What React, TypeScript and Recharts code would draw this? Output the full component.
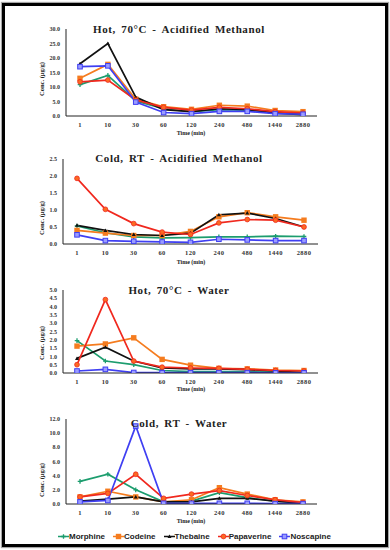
import React from 'react';
import { LineChart, Line, XAxis, YAxis } from 'recharts';

const TIMES = ['1', '10', '30', '60', '120', '240', '480', '1440', '2880'];
const SERIES = ['Morphine', 'Codeine', 'Thebaine', 'Papaverine', 'Noscapine'];

// Hot, 70°C - Acidified Methanol
const hotMethMorphine = [10.8, 14.0, 5.2, 2.5, 1.5, 2.2, 2.0, 1.2, 0.8];
const hotMethCodeine = [13.0, 17.8, 5.8, 3.2, 2.3, 3.7, 3.4, 1.9, 1.5];
const hotMethThebaine = [18.0, 25.0, 6.5, 2.2, 1.5, 2.5, 2.2, 1.0, 0.5];
const hotMethPapaverine = [11.8, 12.4, 5.5, 3.0, 2.0, 3.0, 2.5, 1.5, 1.0];
const hotMethNoscapine = [17.0, 17.3, 4.8, 1.2, 0.8, 1.6, 1.6, 0.8, 0.6];

// Cold, RT - Acidified Methanol
const coldMethMorphine = [0.53, 0.33, 0.21, 0.18, 0.19, 0.21, 0.21, 0.23, 0.22];
const coldMethCodeine = [0.4, 0.32, 0.25, 0.25, 0.37, 0.8, 0.92, 0.8, 0.7];
const coldMethThebaine = [0.55, 0.4, 0.28, 0.25, 0.32, 0.86, 0.91, 0.75, 0.5];
const coldMethPapaverine = [1.93, 1.02, 0.6, 0.35, 0.28, 0.62, 0.72, 0.7, 0.5];
const coldMethNoscapine = [0.27, 0.1, 0.08, 0.06, 0.05, 0.14, 0.12, 0.1, 0.1];

// Hot, 70°C - Water
const hotWaterMorphine = [1.95, 0.72, 0.5, 0.15, 0.08, 0.08, 0.08, 0.05, 0.03];
const hotWaterCodeine = [1.62, 1.75, 2.12, 0.82, 0.47, 0.28, 0.25, 0.18, 0.15];
const hotWaterThebaine = [0.88, 1.55, 0.72, 0.3, 0.25, 0.25, 0.2, 0.12, 0.03];
const hotWaterPapaverine = [0.5, 4.42, 0.72, 0.35, 0.3, 0.28, 0.22, 0.15, 0.12];
const hotWaterNoscapine = [0.12, 0.22, 0.03, 0.02, 0.02, 0.02, 0.02, 0.01, 0.01];

// Cold, RT - Water
const coldWaterMorphine = [3.2, 4.2, 2.0, 0.3, 0.4, 1.6, 0.9, 0.4, 0.2];
const coldWaterCodeine = [1.0, 1.8, 1.0, 0.3, 0.6, 2.3, 1.4, 0.6, 0.3];
const coldWaterThebaine = [0.4, 0.7, 1.0, 0.3, 0.3, 0.8, 0.8, 0.4, 0.1];
const coldWaterPapaverine = [1.0, 1.5, 4.2, 0.8, 1.4, 1.9, 1.2, 0.6, 0.2];
const coldWaterNoscapine = [0.3, 0.5, 11.0, 0.1, 0.1, 0.1, 0.1, 0.05, 0.05];

const ticksHotMeth = [0, 5, 10, 15, 20, 25, 30];
const ticksColdMeth = [0, 0.5, 1, 1.5, 2, 2.5];
const ticksHotWater = [0, 0.5, 1, 1.5, 2, 2.5, 3, 3.5, 4, 4.5, 5];
const ticksColdWater = [0, 2, 4, 6, 8, 10, 12];

const COLORS: Record<string, string> = {
  Morphine: '#1c9d6e',
  Codeine: '#f57c1f',
  Thebaine: '#111111',
  Papaverine: '#f0281e',
  Noscapine: '#3f3ff2',
};

const build = (cols: number[][]) =>
  TIMES.map((t, i) => {
    const row: Record<string, number | string> = { time: t };
    SERIES.forEach((s, k) => {
      row[s] = cols[k][i];
    });
    return row;
  });

const Marker = ({ kind, cx, cy }: { kind: string; cx: number; cy: number }) => {
  const c = COLORS[kind];
  switch (kind) {
    case 'Morphine':
      return (
        <g>
          <line x1={cx - 2.3} x2={cx + 2.3} y1={cy} y2={cy} stroke={c} strokeWidth={1.3} />
          <line x1={cx} x2={cx} y1={cy - 2.3} y2={cy + 2.3} stroke={c} strokeWidth={1.3} />
        </g>
      );
    case 'Codeine':
      return <rect x={cx - 2.7} y={cy - 2.7} width={5.4} height={5.4} fill={c} />;
    case 'Thebaine':
      return <polygon points={`${cx},${cy - 2} ${cx + 2},${cy + 1.5} ${cx - 2},${cy + 1.5}`} fill={c} />;
    case 'Papaverine':
      return <circle cx={cx} cy={cy} r={2.4} fill="#fb6a22" stroke={c} strokeWidth={0.8} />;
    default:
      return <rect x={cx - 2.3} y={cy - 2.3} width={4.6} height={4.6} fill="#9a9cff" stroke={c} strokeWidth={1} />;
  }
};

const dotFn = (kind: string) => (props: any) => {
  const { cx, cy, index } = props;
  if (cx == null || cy == null) return <g key={`e-${kind}-${index}`} />;
  return (
    <g key={`d-${kind}-${index}`}>
      <Marker kind={kind} cx={cx} cy={cy} />
    </g>
  );
};

const SERIF = '"Liberation Serif", "DejaVu Serif", serif';

type PanelProps = {
  title: string;
  data: Record<string, number | string>[];
  ticks: number[];
  plotTop: number;
  plotBottom: number;
  axisX: number;
  rightEdge: number;
  titleY: number;
  timeY: number;
  ylabelY: number;
};

const Panel = ({ title, data, ticks, plotTop, plotBottom, axisX, rightEdge, titleY, timeY, ylabelY }: PanelProps) => {
  const mTop = 5;
  const xh = 20;
  const plotH = plotBottom - plotTop;
  const max = ticks[ticks.length - 1];
  const pad = Math.round((rightEdge - axisX) / 18);
  return (
    <>
      <div style={{ position: 'absolute', left: 0, top: plotTop - mTop }}>
        <LineChart
          width={390}
          height={mTop + plotH + xh}
          data={data}
          margin={{ top: mTop, right: 390 - rightEdge, bottom: 0, left: 0 }}
        >
          <XAxis
            dataKey="time"
            type="category"
            scale="point"
            padding={{ left: pad, right: pad }}
            height={xh}
            interval={0}
            tickLine={false}
            tickSize={4}
            tickMargin={2}
            axisLine={{ stroke: '#222', strokeWidth: 1 }}
            tick={{ fontSize: 6.5, fill: '#333', fontFamily: SERIF, fontWeight: 'bold', letterSpacing: 0.4 }}
          />
          <YAxis
            width={axisX}
            domain={[0, max]}
            ticks={ticks}
            interval={0}
            type="number"
            allowDataOverflow
            tickLine={false}
            tickSize={4}
            tickMargin={2}
            axisLine={{ stroke: '#222', strokeWidth: 1 }}
            tickFormatter={(v: number) => v.toFixed(1)}
            tick={{ fontSize: 6, fill: '#333', fontFamily: SERIF, fontWeight: 'bold' }}
          />
          {SERIES.map((s) => (
            <Line
              key={s}
              dataKey={s}
              type="linear"
              stroke={COLORS[s]}
              strokeWidth={1.7}
              dot={dotFn(s)}
              activeDot={false}
              isAnimationActive={false}
            />
          ))}
        </LineChart>
      </div>
      <div
        style={{
          position: 'absolute',
          left: 179,
          top: titleY,
          transform: 'translate(-50%, -50%)',
          whiteSpace: 'nowrap',
          fontFamily: SERIF,
          fontWeight: 'bold',
          fontSize: 11,
          letterSpacing: 0.6,
          wordSpacing: 2,
          color: '#222',
        }}
      >
        {title}
      </div>
      <div
        style={{
          position: 'absolute',
          left: 191,
          top: timeY,
          transform: 'translate(-50%, -50%)',
          whiteSpace: 'nowrap',
          fontFamily: SERIF,
          fontWeight: 'bold',
          fontSize: 6,
          color: '#222',
        }}
      >
        Time (min)
      </div>
      <div
        style={{
          position: 'absolute',
          left: 41,
          top: ylabelY,
          transform: 'translate(-50%, -50%) rotate(-90deg)',
          whiteSpace: 'nowrap',
          fontFamily: SERIF,
          fontWeight: 'bold',
          fontSize: 6.5,
          color: '#222',
        }}
      >
        Conc. (µg/g)
      </div>
    </>
  );
};

const LegendIcon = ({ kind }: { kind: string }) => (
  <svg width={11} height={8} style={{ display: 'block' }}>
    <line x1={0} x2={11} y1={4} y2={4} stroke={COLORS[kind]} strokeWidth={1.4} />
    <Marker kind={kind} cx={5.5} cy={4} />
  </svg>
);

export default function App() {
  const hotMeth = build([hotMethMorphine, hotMethCodeine, hotMethThebaine, hotMethPapaverine, hotMethNoscapine]);
  const coldMeth = build([coldMethMorphine, coldMethCodeine, coldMethThebaine, coldMethPapaverine, coldMethNoscapine]);
  const hotWater = build([hotWaterMorphine, hotWaterCodeine, hotWaterThebaine, hotWaterPapaverine, hotWaterNoscapine]);
  const coldWater = build([coldWaterMorphine, coldWaterCodeine, coldWaterThebaine, coldWaterPapaverine, coldWaterNoscapine]);

  return (
    <div style={{ position: 'absolute', left: 0, top: 0, width: 390, height: 550, background: '#fff', overflow: 'hidden' }}>
      <div
        style={{
          position: 'absolute',
          left: 2,
          top: 3,
          width: 386,
          height: 544,
          boxSizing: 'border-box',
          border: '3px solid #000',
          boxShadow: '0 0 1px 1px rgba(0,0,0,0.35)',
        }}
      />
      <Panel
        title="Hot, 70°C - Acidified Methanol"
        data={hotMeth}
        ticks={ticksHotMeth}
        plotTop={29}
        plotBottom={116}
        axisX={66}
        rightEdge={317}
        titleY={29}
        timeY={133}
        ylabelY={79}
      />
      <Panel
        title="Cold, RT - Acidified Methanol"
        data={coldMeth}
        ticks={ticksColdMeth}
        plotTop={159}
        plotBottom={244}
        axisX={63}
        rightEdge={318}
        titleY={158}
        timeY={262}
        ylabelY={218}
      />
      <Panel
        title="Hot, 70°C - Water"
        data={hotWater}
        ticks={ticksHotWater}
        plotTop={290}
        plotBottom={373}
        axisX={63}
        rightEdge={318}
        titleY={290}
        timeY={389}
        ylabelY={343}
      />
      <Panel
        title="Cold, RT - Water"
        data={coldWater}
        ticks={ticksColdWater}
        plotTop={419}
        plotBottom={504}
        axisX={66}
        rightEdge={317}
        titleY={423}
        timeY={521}
        ylabelY={480}
      />
      <div
        style={{
          position: 'absolute',
          left: 58,
          top: 536,
          transform: 'translateY(-50%)',
          display: 'flex',
          alignItems: 'center',
          fontFamily: '"Liberation Sans", Arial, sans-serif',
          fontWeight: 'bold',
          fontSize: 8,
          color: '#222',
          whiteSpace: 'nowrap',
        }}
      >
        {SERIES.map((s) => (
          <div key={s} style={{ display: 'flex', alignItems: 'center', marginRight: 8 }}>
            <LegendIcon kind={s} />
            <span>{s}</span>
          </div>
        ))}
      </div>
    </div>
  );
}
